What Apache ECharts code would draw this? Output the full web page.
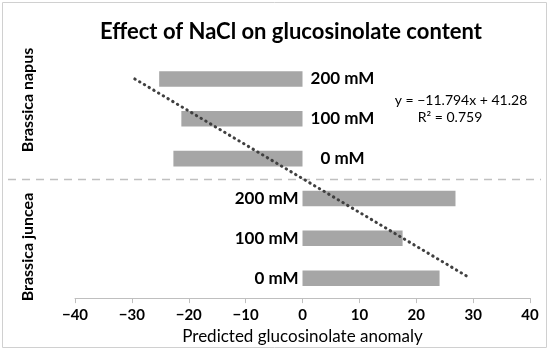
<!DOCTYPE html>
<html>
<head>
<meta charset="utf-8">
<script src="https://cdn.jsdelivr.net/npm/echarts@6/dist/echarts.min.js"></script>
<style>
html,body{margin:0;padding:0;background:#fff;}
#main{width:550px;height:350px;}
</style>
</head>
<body>
<div id="main"></div>
<script>
// ---- data ----
const categories = ['napus 200', 'napus 100', 'napus 0', 'juncea 200', 'juncea 100', 'juncea 0'];
const concLabels = ['200 mM', '100 mM', '0 mM', '200 mM', '100 mM', '0 mM'];
const groups = ['Brassica napus', 'Brassica juncea'];
const anomalyValues = [-25.2, -21.3, -22.7, 26.9, 17.6, 24.1];
const xTicks = [-40, -30, -20, -10, 0, 10, 20, 30, 40];
const trendSlope = -11.794;
const trendIntercept = 41.28;
const r2 = 0.759;

const FONT = 'Lato';
const n = categories.length;
// Excel trendline: category index counted from bottom (1..n)
const trendData = [
  [trendSlope * n + trendIntercept, categories[0]],
  [trendSlope * 1 + trendIntercept, categories[n - 1]]
];

const barData = anomalyValues.map((v, i) => ({
  value: v,
  label: v < 0
    ? { position: 'right', distance: 7, formatter: '{c|' + concLabels[i] + '}',
        rich: { c: { width: 66, align: 'center', fontFamily: FONT, fontWeight: 'bold', fontSize: 17, color: '#000' } } }
    : { position: 'left', distance: 4, formatter: concLabels[i] }
}));

const chart = echarts.init(document.getElementById('main'), null, { renderer: 'canvas' });
chart.setOption({
  animation: false,
  grid: { left: 75, right: 20, top: 59, bottom: 48 },
  xAxis: {
    type: 'value', min: -40, max: 40, interval: 10,
    splitLine: { show: false },
    axisLine: { show: true, lineStyle: { color: '#bfbfbf', width: 1 } },
    axisTick: { show: true, length: 5, lineStyle: { color: '#bfbfbf' } },
    axisLabel: {
      margin: 10, fontFamily: FONT, fontWeight: 'bold', fontSize: 15, color: '#000',
      formatter: v => xTicks.includes(v) ? String(v).replace('-', '\u2212') : ''
    },
    name: 'Predicted glucosinolate anomaly',
    nameLocation: 'middle', nameGap: 26,
    nameTextStyle: { fontFamily: FONT, fontSize: 17, color: '#000' }
  },
  yAxis: {
    type: 'category', data: categories, inverse: true,
    axisLine: { show: false }, axisTick: { show: false }, axisLabel: { show: false },
    splitLine: { show: false }
  },
  series: [
    {
      type: 'bar', data: barData, barWidth: '39%',
      itemStyle: { color: '#a6a6a6' },
      label: { show: true, fontFamily: FONT, fontWeight: 'bold', fontSize: 17, color: '#000' }
    },
    {
      type: 'line', data: trendData, symbol: 'none', z: 5,
      lineStyle: { color: '#404040', width: 3, type: [0.5, 5], cap: 'round' }
    }
  ]
});

// separator between the two groups
const yA = chart.convertToPixel({ yAxisIndex: 0 }, categories[2]);
const yB = chart.convertToPixel({ yAxisIndex: 0 }, categories[3]);
const sepY = Math.round((yA + yB) / 2) + 0.5;

chart.setOption({
  graphic: [
    { type: 'rect', shape: { x: 2.5, y: 2.5, width: 544, height: 345 },
      style: { fill: 'none', stroke: '#d0d0d0', lineWidth: 1 }, silent: true },
    { type: 'line', shape: { x1: 8, y1: sepY, x2: 541, y2: sepY },
      style: { stroke: '#c0c0c0', lineWidth: 1.5, lineDash: [8, 6] }, silent: true },
    { type: 'text', x: 291, y: 21,
      style: { text: 'Effect of NaCl on glucosinolate content', fontFamily: FONT, fontWeight: 'bold',
               fontSize: 22, fill: '#000', align: 'center', verticalAlign: 'top' } },
    { type: 'text', x: 28, y: 100, rotation: Math.PI / 2,
      style: { text: groups[0], fontFamily: FONT, fontWeight: 'bold', fontSize: 16, fill: '#000',
               align: 'center', verticalAlign: 'middle' } },
    { type: 'text', x: 28, y: 247, rotation: Math.PI / 2,
      style: { text: groups[1], fontFamily: FONT, fontWeight: 'bold', fontSize: 16, fill: '#000',
               align: 'center', verticalAlign: 'middle' } },
    { type: 'text', x: 461, y: 100,
      style: { text: 'y = \u221211.794x + 41.28', fontFamily: FONT, fontSize: 14, fill: '#000',
               align: 'center', verticalAlign: 'middle' } },
    { type: 'text', x: 450, y: 117,
      style: { text: 'R\u00b2 = ' + r2, fontFamily: FONT, fontSize: 14, fill: '#000',
               align: 'center', verticalAlign: 'middle' } }
  ]
});
</script>
</body>
</html>
